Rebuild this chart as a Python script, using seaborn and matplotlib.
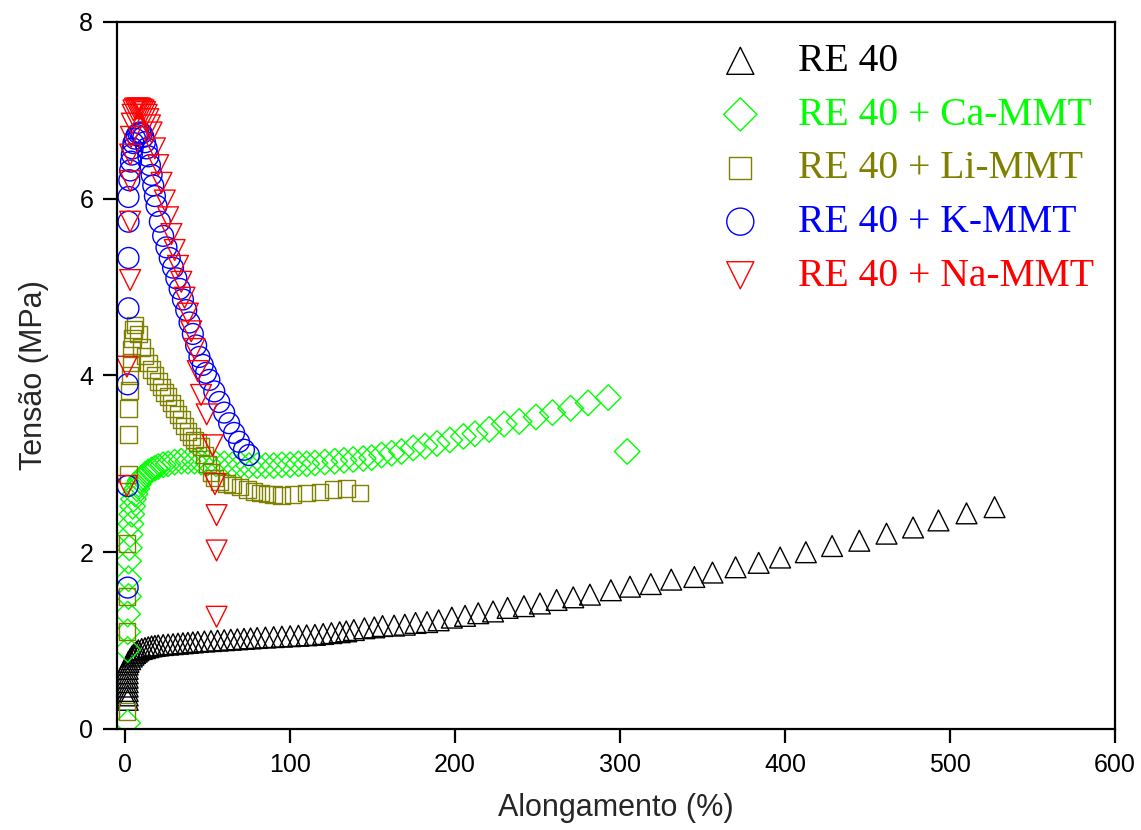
import numpy as np
import pandas as pd
import seaborn as sns
from matplotlib import pyplot as plt

# RE 40
re40_x = [1.5, 1.5, 1.5, 1.5, 1.5, 1.5, 1.5, 1.5, 1.5, 2,
          3, 4, 5, 6, 7, 8, 10, 12, 14, 16,
          18, 20, 23, 26, 29, 32, 35, 38, 41, 44,
          48, 52, 56, 60, 64, 68, 72, 76, 80, 85,
          90, 95, 100, 105, 110, 115, 120, 125, 130, 134,
          138.6, 145, 151, 156, 163, 169.5, 176, 183, 190, 198,
          206, 214, 223, 231.8, 241.7, 251.4, 261.5, 271.6, 281.7, 294.4,
          306, 318.6, 331, 345, 356, 370, 384, 397, 412.6, 428.5,
          445, 461.5, 477.6, 493, 510, 527]
re40_y = [0.33, 0.38, 0.43, 0.48, 0.53, 0.58, 0.63, 0.68, 0.73, 0.76,
          0.79, 0.82, 0.84, 0.86, 0.875, 0.89, 0.905, 0.915, 0.925, 0.935,
          0.94, 0.945, 0.95, 0.955, 0.96, 0.965, 0.97, 0.975, 0.98, 0.985,
          0.99, 0.995, 1.0, 1.005, 1.01, 1.015, 1.02, 1.025, 1.03, 1.035,
          1.04, 1.045, 1.05, 1.055, 1.06, 1.065, 1.075, 1.085, 1.095, 1.105,
          1.12, 1.14, 1.15, 1.165, 1.17, 1.18, 1.20, 1.21, 1.23, 1.26,
          1.28, 1.31, 1.33, 1.37, 1.39, 1.42, 1.46, 1.49, 1.52, 1.57,
          1.61, 1.64, 1.69, 1.72, 1.77, 1.83, 1.88, 1.94, 2.0, 2.07,
          2.13, 2.21, 2.28, 2.36, 2.44, 2.51]

# RE 40 + Ca-MMT
ca_x = [1.5, 1.5, 1.5, 1.5, 2, 2, 2, 2.5, 3, 3.5,
        4, 4.5, 5, 6, 7, 8, 9, 10, 12, 14,
        16, 18, 20, 23, 26, 30, 34, 38, 42, 46,
        50, 55, 60, 65, 70, 75, 80, 85, 90, 95,
        100, 105, 110, 115, 121, 127, 132.6, 138.2, 144.3, 149.4,
        155.4, 161.5, 167.5, 174.6, 181.7, 189, 196.8, 205, 212, 220.6,
        229.7, 238.8, 249, 259, 270, 280.6, 292.8, 304.3]
ca_y = [0.07, 0.9, 1.1, 1.3, 1.5, 1.7, 1.9, 2.05, 2.2, 2.32,
        2.43, 2.52, 2.6, 2.66, 2.72, 2.77, 2.81, 2.84, 2.88, 2.91,
        2.93, 2.95, 2.97, 2.99, 3.0, 3.02, 3.03, 3.03, 3.03, 3.02,
        3.01, 3.0, 3.0, 2.99, 2.99, 2.98, 2.98, 2.98, 2.98, 2.99,
        2.99, 3.0, 3.0, 3.01, 3.02, 3.03, 3.04, 3.05, 3.06, 3.07,
        3.10, 3.12, 3.14, 3.18, 3.20, 3.23, 3.27, 3.31, 3.34, 3.39,
        3.45, 3.48, 3.53, 3.58, 3.63, 3.69, 3.75, 3.14]

# RE 40 + Li-MMT
li_x = [1, 1, 1, 1, 2, 2, 2, 2.5, 3, 3.5,
        4, 4.5, 5, 6, 8, 10, 12, 14, 16, 18,
        20, 22, 24, 26, 28, 30, 32, 34, 36, 38,
        40, 42, 44, 46, 48, 50, 52, 54, 57, 61.5,
        65, 69.5, 74, 78, 82, 86, 89.7, 94.8, 101.7, 110,
        118, 126, 134, 142.3]
li_y = [0.2, 1.1, 1.5, 2.1, 2.88, 3.33, 3.63, 3.83, 4.0, 4.15,
        4.3, 4.42, 4.52, 4.57, 4.47, 4.32, 4.22, 4.14, 4.07, 4.0,
        3.93, 3.87, 3.81, 3.76, 3.69, 3.63, 3.56, 3.5, 3.43, 3.37,
        3.31, 3.27, 3.24, 3.2, 3.1, 3.0, 2.9, 2.84, 2.8, 2.78,
        2.76, 2.74, 2.71, 2.69, 2.67, 2.66, 2.65, 2.64, 2.65, 2.67,
        2.68, 2.71, 2.72, 2.67]

# RE 40 + K-MMT
k_x = [1.5, 1.5, 1.5, 2, 2, 2, 2, 2.5, 3, 3.5,
       4, 4.5, 5, 6, 7, 8, 9, 10, 11, 12,
       13, 14, 15, 16, 17, 18, 19, 21, 23, 25,
       27, 29, 31, 33, 35, 37, 39, 41, 43, 45,
       47, 49, 51, 54, 57, 60, 63, 66, 69, 72,
       75]
k_y = [1.6, 2.75, 3.9, 4.76, 5.33, 5.74, 6.02, 6.21, 6.32, 6.42,
       6.5, 6.57, 6.63, 6.68, 6.72, 6.74, 6.75, 6.74, 6.7, 6.64,
       6.57, 6.48, 6.38, 6.27, 6.15, 6.03, 5.92, 5.74, 5.58, 5.45,
       5.33, 5.22, 5.1, 4.98, 4.86, 4.74, 4.6, 4.47, 4.34, 4.21,
       4.12, 4.03, 3.95, 3.82, 3.7, 3.58, 3.46, 3.35, 3.25, 3.16,
       3.1]

# RE 40 + Na-MMT
na_x = [1, 1, 3, 3, 3, 3, 3.5, 4, 4.5, 5,
        6, 7, 8, 9, 10, 11, 12, 13, 14, 15,
        16, 18, 20, 22, 24, 26, 28, 30, 32, 34,
        36, 38, 40, 42, 44, 46, 49.4, 53, 54.4, 55.4,
        55.4, 55.4]
na_y = [2.75, 4.1, 5.08, 5.74, 6.2, 6.5, 6.7, 6.85, 6.95, 7.0,
        7.02, 7.02, 7.02, 7.02, 7.01, 7.0, 6.98, 6.95, 6.9, 6.83,
        6.75, 6.57, 6.38, 6.18, 5.98, 5.79, 5.6, 5.42, 5.24, 5.06,
        4.88, 4.7, 4.5, 4.3, 4.05, 3.78, 3.56, 3.21, 2.77, 2.42,
        2.02, 1.27]

labels = ['RE 40', 'RE 40 + Ca-MMT', 'RE 40 + Li-MMT', 'RE 40 + K-MMT', 'RE 40 + Na-MMT']
cores = ['black', '#00ff00', '#808000', '#0000ff', '#ff0000']
marcadores = ['^', 'D', 's', 'o', 'v']
tamanhos = [225, 169, 144, 225, 225]

sns.set_style('white')
plt.rcParams['font.family'] = ['Liberation Sans', 'DejaVu Sans']

fig, ax = plt.subplots(figsize=(11.41, 8.30), dpi=100)
fig.subplots_adjust(left=0.1025, right=0.9772, bottom=0.1217, top=0.9735)

dados = [(re40_x, re40_y), (ca_x, ca_y), (li_x, li_y), (k_x, k_y), (na_x, na_y)]
for (x, y), lab, cor, mk, s in zip(dados, labels, cores, marcadores, tamanhos):
    sns.scatterplot(x=x, y=y, marker=mk, s=s, facecolor='none', edgecolor=cor,
                    linewidth=1.0, label=lab, ax=ax)

ax.set_xlim(-5, 600)
ax.set_ylim(0, 8)
ax.set_xticks([0, 100, 200, 300, 400, 500, 600])
ax.set_yticks([0, 2, 4, 6, 8])
ax.tick_params(direction='out', length=10, width=1.6, labelsize=18, pad=7,
               bottom=True, left=True, top=False, right=False, colors='black')
for sp in ax.spines.values():
    sp.set_visible(True)
    sp.set_color('black')
    sp.set_linewidth(1.6)

ax.set_xlabel('Alongamento (%)', fontsize=22, labelpad=12)
ax.set_ylabel('Tensão (MPa)', fontsize=22, labelpad=22)

leg = ax.legend(loc='upper left', bbox_to_anchor=(0.628, 0.948), bbox_transform=fig.transFigure,
                frameon=False, prop={'family': 'Liberation Serif', 'size': 28.5},
                markerscale=1.3, handlelength=1.2, handletextpad=0.85, labelspacing=0.42,
                borderpad=0, borderaxespad=0, scatterpoints=1)
for t, cor in zip(leg.get_texts(), cores):
    t.set_color(cor)

plt.savefig('out.png', dpi=100)
